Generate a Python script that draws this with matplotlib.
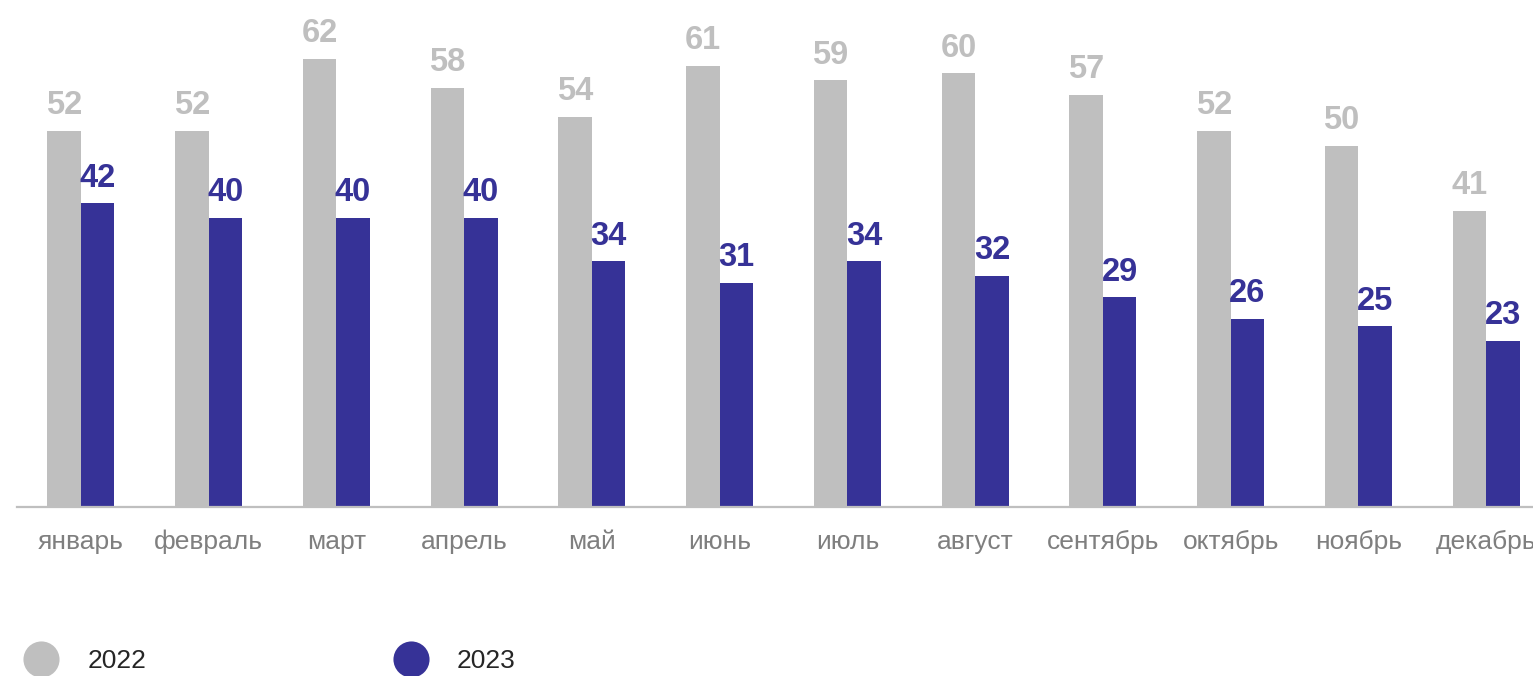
import matplotlib
matplotlib.use("Agg")
import matplotlib.pyplot as plt
from matplotlib.lines import Line2D
import numpy as np

months = ["январь", "февраль", "март", "апрель", "май", "июнь", "июль",
          "август", "сентябрь", "октябрь", "ноябрь", "декабрь"]
values_2022 = [52, 52, 62, 58, 54, 61, 59, 60, 57, 52, 50, 41]
values_2023 = [42, 40, 40, 40, 34, 31, 34, 32, 29, 26, 25, 23]
series_names = ["2022", "2023"]

C22 = "#BFBFBF"
C23 = "#363297"

plt.rcParams['font.family'] = ['Liberation Sans', 'DejaVu Sans']

W, H = 1533, 676
fig = plt.figure(figsize=(W / 100, H / 100), dpi=100)
ax_left, ax_right = 17, 1550
ax_bottom, ax_top = 507, 0
ax = fig.add_axes([ax_left / W, 1 - ax_bottom / H, (ax_right - ax_left) / W, (ax_bottom - ax_top) / H])

x = np.arange(len(months))
w = 0.262
b1 = ax.bar(x - w / 2, values_2022, w, color=C22, label=series_names[0])
b2 = ax.bar(x + w / 2, values_2023, w, color=C23, label=series_names[1])

for xi, v in zip(x - w / 2, values_2022):
    ax.annotate(str(v), (xi, v), xytext=(0, 12), textcoords="offset points",
                ha="center", va="baseline", fontsize=23.5, fontweight="bold", color=C22)
for xi, v in zip(x + w / 2, values_2023):
    ax.annotate(str(v), (xi, v), xytext=(0, 12), textcoords="offset points",
                ha="center", va="baseline", fontsize=23.5, fontweight="bold", color=C23)

ax.set_xlim(-0.5, 11.5)
ax.set_ylim(0, 507 / 7.23)
ax.set_xticks(x)
ax.set_xticklabels(months, fontsize=19, color="#7F7F7F")
ax.tick_params(axis="x", length=0, pad=16.5)
ax.set_yticks([])
for s in ["top", "right", "left"]:
    ax.spines[s].set_visible(False)
ax.spines["bottom"].set_color("#BFBFBF")
ax.spines["bottom"].set_linewidth(1.6)
ax.patch.set_alpha(0)

handles = [Line2D([], [], marker="o", linestyle="none", markersize=26, color=C22, markeredgewidth=0),
           Line2D([], [], marker="o", linestyle="none", markersize=26, color=C23, markeredgewidth=0)]
fig.legend(handles, series_names, loc="center left", bbox_to_anchor=(23 / W, 15 / H),
           ncol=2, frameon=False, fontsize=19, handlelength=1.4, handletextpad=1.06,
           columnspacing=9.3, borderpad=0, borderaxespad=0, labelcolor="#262626")

fig.savefig("out.png", dpi=100)
